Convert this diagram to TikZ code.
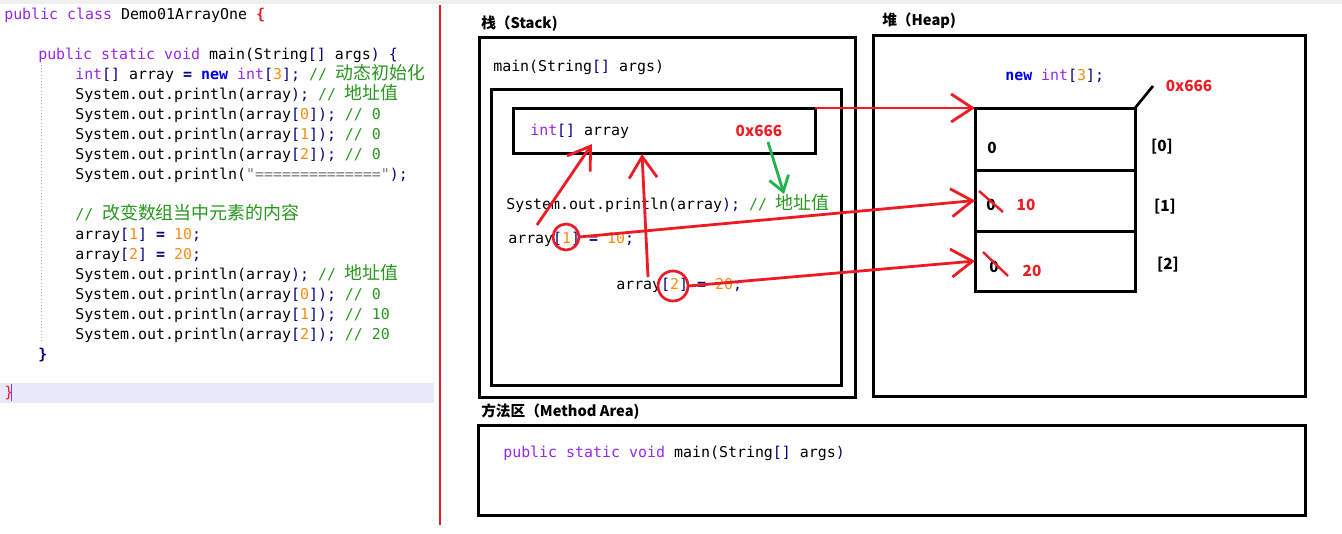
\documentclass[tikz,border=0pt]{standalone}
\usepackage{fontspec}
\setmainfont{Liberation Sans}
\setmonofont{DejaVu Sans Mono}
\newfontfamily\cjk{Noto Sans CJK SC}
\newfontfamily\cjkcode[Scale=1.2]{Noto Sans CJK SC}
\usepackage{xcolor}
\usetikzlibrary{arrows.meta,positioning}

\definecolor{kwpurple}{RGB}{150,40,240}
\definecolor{newblue}{RGB}{0,0,230}
\definecolor{navy}{RGB}{0,0,128}
\definecolor{numorange}{RGB}{250,140,20}
\definecolor{cmtgreen}{RGB}{40,150,30}
\definecolor{strgray}{RGB}{120,120,120}
\definecolor{paintred}{RGB}{237,28,36}
\definecolor{paintgreen}{RGB}{34,177,76}
\definecolor{hiline}{RGB}{232,232,250}
\definecolor{topgray}{RGB}{240,240,240}

\newcommand{\kw}[1]{\textcolor{kwpurple}{#1}}
\newcommand{\nv}[1]{\textcolor{navy}{#1}}
\newcommand{\nw}[1]{\textcolor{newblue}{\bfseries #1}}
\newcommand{\nm}[1]{\textcolor{numorange}{#1}}
\newcommand{\cmt}[1]{\textcolor{cmtgreen}{#1}}
\newcommand{\zh}[1]{{\cjkcode #1}}
\newcommand{\strg}[1]{\textcolor{strgray}{#1}}

\begin{document}
\begin{tikzpicture}[x=0.75pt,y=-0.75pt,
  code/.style={anchor=base west,inner sep=0pt,font=\ttfamily\fontsize{11.2}{13}\selectfont},
  title/.style={anchor=base west,inner sep=0pt,font=\cjk\bfseries\fontsize{11}{13}\selectfont},
  val/.style={inner sep=0pt,font=\cjk\bfseries\fontsize{11.5}{13}\selectfont},
  frame/.style={draw,line width=2.25pt},
  cellbox/.style={draw,line width=2.25pt,outer sep=0pt,inner sep=0pt,anchor=north west},
  ring/.style={draw=paintred,line width=2pt,circle,inner sep=0pt,outer sep=0pt},
  redarrow/.style={draw=paintred,line width=2.1pt,-{Straight Barb[length=16pt,width=21pt]}},
  greenarrow/.style={draw=paintgreen,line width=2.1pt,-{Straight Barb[length=11pt,width=15pt]}},
  redline/.style={draw=paintred,line width=1.8pt}]

\useasboundingbox (0,0) rectangle (1342,533);
\fill[topgray] (0,0) rectangle (1342,4);

% code panel
\fill[hiline] (0,383) rectangle (434,403);
\draw[kwpurple,line width=0.75pt] (11,384) -- (11,401);
\draw[strgray!60,dotted] (41,65) -- (41,343);
\draw[paintred,line width=1.5pt] (439.5,5) -- (439.5,525);

\node[code] (l1) at (4,19) {\kw{public class} Demo01ArrayOne \textcolor{paintred}{\bfseries\{}};
\node[code] (l3) at (38,59) {\kw{public static void} main(String\nv{[]} args\nv{)} \nv{\{}};
\node[code] (l4) at (75,79) {\kw{int}\nv{[]} array \nv{\bfseries=} \nw{new} \kw{int}\nv{[}\nm{3}\nv{];} \cmt{// \zh{动态初始化}}};
\node[code] (l5) at (75,99) {System.out.println(array\nv{);} \cmt{// \zh{地址值}}};
\node[code] (l6) at (75,119) {System.out.println(array\nv{[}\nm{0}\nv{]);} \cmt{// 0}};
\node[code] (l7) at (75,139) {System.out.println(array\nv{[}\nm{1}\nv{]);} \cmt{// 0}};
\node[code] (l8) at (75,159) {System.out.println(array\nv{[}\nm{2}\nv{]);} \cmt{// 0}};
\node[code] (l9) at (75,179) {System.out.println(\strg{"=============="}\nv{);}};
\node[code] (l11) at (75,219) {\cmt{// \zh{改变数组当中元素的内容}}};
\node[code] (l12) at (75,239) {array\nv{[}\nm{1}\nv{]} \nv{\bfseries=} \nm{10}\nv{;}};
\node[code] (l13) at (75,259) {array\nv{[}\nm{2}\nv{]} \nv{\bfseries=} \nm{20}\nv{;}};
\node[code] (l14) at (75,279) {System.out.println(array\nv{);} \cmt{// \zh{地址值}}};
\node[code] (l15) at (75,299) {System.out.println(array\nv{[}\nm{0}\nv{]);} \cmt{// 0}};
\node[code] (l16) at (75,319) {System.out.println(array\nv{[}\nm{1}\nv{]);} \cmt{// 10}};
\node[code] (l17) at (75,339) {System.out.println(array\nv{[}\nm{2}\nv{]);} \cmt{// 20}};
\node[code] (l18) at (38,359) {\nv{\bfseries\}}};
\node[code] (l20) at (4,397) {\textcolor{paintred}{\}}};

% stack
\node[title] (stacktitle) at (481,28) {栈（Stack)};
\draw[frame] (479,37) rectangle (855,397);
\node[code] (frametxt) at (493,71) {main(String\nv{[]} args)};
\draw[frame] (491,89) rectangle (841,385);
\node[cellbox,minimum width=226.5pt,minimum height=33.75pt] (var) at (513,108) {};
\node[code] (vartxt) at (530,135) {\kw{int}\nv{[]} array};
\node[val,text=paintred] (saddr) at (759,131) {0x666};
\node[code] (s1) at (506,209) {System.out.println(array\nv{);} \cmt{// \zh{地址值}}};
\node[code] (s2) at (508,243) {array\nv{[}\nm{1}\nv{]} \nv{\bfseries=} \nm{10}\nv{;}};
\node[code] (s3) at (616,289) {array\nv{[}\nm{2}\nv{]} \nv{\bfseries=} \nm{20}\nv{;}};
\node[ring,minimum size=19.5pt] (idx1) at (566,237) {};
\node[ring,minimum size=22.5pt] (idx2) at (673,286) {};

% heap
\node[title] (heaptitle) at (882,25) {堆（Heap)};
\draw[frame] (873,35) rectangle (1305,396);
\node[code] (newtxt) at (1005,80) {\nw{new} \kw{int}\nv{[}\nm{3}\nv{];}};
\node[cellbox,minimum width=120pt,minimum height=46.5pt] (cell0) at (975,108) {};
\node[cellbox,minimum width=120pt,minimum height=45.75pt,below=0pt of cell0] (cell1) {};
\node[cellbox,minimum width=120pt,minimum height=45pt,below=0pt of cell1] (cell2) {};
\node[val,text=paintred] (haddr) at (1189,86) {0x666};
\coordinate (tick) at (1153,86);
\draw[line width=2pt] (cell0.north east) -- (tick);
\node[val] (v0) at (992,148) {0};
\node[val] (v1) at (991,205) {0};
\node[val] (v2) at (994,267) {0};
\draw[redline] (979,191) -- (1003,212);
\draw[redline] (983,252) -- (1008,276);
\node[val,text=paintred] (n1) at (1026,205) {10};
\node[val,text=paintred] (n2) at (1032,271) {20};
\node[val] (i0) at (1162,147) {[0]};
\node[val] (i1) at (1165,207) {[1]};
\node[val] (i2) at (1168,265) {[2]};

% method area
\node[title] (methodtitle) at (481,416) {方法区（Method Area)};
\draw[frame] (478,425) rectangle (1305,515);
\node[code] (methodtxt) at (503,457) {\kw{public static void} main(String\nv{[]} args\nv{)}};

% arrows
\coordinate (p1) at (537,225);
\coordinate (q1) at (592,144);
\coordinate (p2) at (648,277);
\coordinate (q2) at (642,154);
\coordinate (g1) at (768,142);
\coordinate (g2) at (784,194);
\draw[redarrow] (var.north east) -- (cell0.north west);
\draw[redarrow] (idx1.east) -- (cell1.west);
\draw[redarrow] (idx2.east) -- (cell2.west);
\draw[redarrow] (p1) -- (q1);
\draw[redarrow] (p2) -- (q2);
\draw[greenarrow] (g1) -- (g2);

\end{tikzpicture}
\end{document}
